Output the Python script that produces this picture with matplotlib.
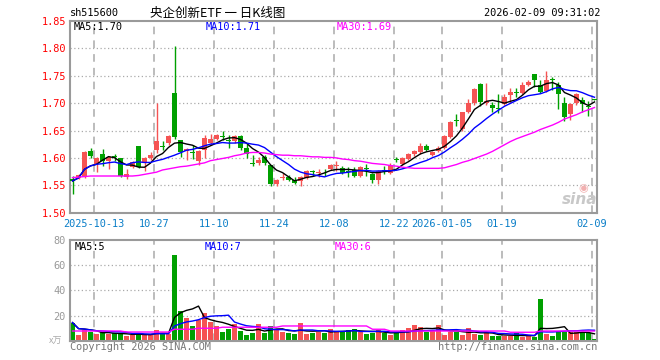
import numpy as np
import pandas as pd
import matplotlib
matplotlib.use("Agg")
from matplotlib import pyplot as plt

# daily candles, 2025-09-29 .. 2026-02-09
opens = [1.561, 1.563, 1.565, 1.612, 1.589, 1.607, 1.595, 1.603, 1.600, 1.566,
         1.584, 1.622, 1.590, 1.600, 1.615, 1.622, 1.627, 1.719, 1.633, 1.612,
         1.611, 1.595, 1.615, 1.628, 1.635, 1.640, 1.632, 1.630, 1.640, 1.619,
         1.591, 1.590, 1.601, 1.587, 1.552, 1.564, 1.566, 1.559, 1.557, 1.563,
         1.576, 1.572, 1.573, 1.580, 1.585, 1.582, 1.576, 1.578, 1.567, 1.581,
         1.571, 1.559, 1.578, 1.573, 1.597, 1.589, 1.598, 1.607, 1.610, 1.622,
         1.605, 1.613, 1.618, 1.639, 1.669, 1.652, 1.683, 1.701, 1.735, 1.700,
         1.697, 1.691, 1.699, 1.715, 1.721, 1.719, 1.734, 1.753, 1.734, 1.722,
         1.744, 1.734, 1.701, 1.680, 1.700, 1.706, 1.694, 1.707]
highs = [1.567, 1.570, 1.613, 1.619, 1.601, 1.616, 1.604, 1.608, 1.600, 1.579,
         1.595, 1.622, 1.602, 1.611, 1.701, 1.631, 1.642, 1.804, 1.633, 1.619,
         1.623, 1.614, 1.642, 1.643, 1.644, 1.650, 1.641, 1.642, 1.641, 1.626,
         1.605, 1.602, 1.605, 1.588, 1.561, 1.572, 1.569, 1.566, 1.567, 1.578,
         1.578, 1.579, 1.579, 1.589, 1.595, 1.585, 1.584, 1.583, 1.586, 1.589,
         1.573, 1.578, 1.586, 1.591, 1.602, 1.602, 1.609, 1.615, 1.627, 1.626,
         1.613, 1.622, 1.642, 1.668, 1.680, 1.684, 1.707, 1.727, 1.736, 1.736,
         1.703, 1.716, 1.716, 1.727, 1.727, 1.739, 1.742, 1.753, 1.742, 1.759,
         1.748, 1.739, 1.712, 1.700, 1.718, 1.711, 1.704, 1.707]
lows = [1.534, 1.562, 1.563, 1.600, 1.575, 1.585, 1.579, 1.595, 1.565, 1.561,
        1.581, 1.582, 1.576, 1.597, 1.609, 1.615, 1.624, 1.634, 1.602, 1.597,
        1.598, 1.587, 1.600, 1.626, 1.632, 1.632, 1.619, 1.628, 1.615, 1.599,
        1.585, 1.587, 1.587, 1.549, 1.549, 1.560, 1.557, 1.553, 1.548, 1.561,
        1.567, 1.565, 1.567, 1.578, 1.577, 1.570, 1.565, 1.566, 1.565, 1.567,
        1.555, 1.552, 1.570, 1.571, 1.593, 1.587, 1.596, 1.604, 1.608, 1.612,
        1.603, 1.610, 1.616, 1.637, 1.658, 1.650, 1.682, 1.697, 1.695, 1.697,
        1.683, 1.682, 1.697, 1.700, 1.712, 1.717, 1.732, 1.730, 1.719, 1.720,
        1.724, 1.689, 1.668, 1.670, 1.697, 1.684, 1.677, 1.705]
closes = [1.558, 1.569, 1.611, 1.604, 1.600, 1.595, 1.602, 1.601, 1.567, 1.571,
          1.593, 1.584, 1.600, 1.605, 1.631, 1.620, 1.640, 1.639, 1.611, 1.617,
          1.609, 1.613, 1.637, 1.635, 1.642, 1.638, 1.630, 1.640, 1.619, 1.608,
          1.589, 1.597, 1.591, 1.552, 1.560, 1.566, 1.559, 1.554, 1.566, 1.577,
          1.574, 1.574, 1.572, 1.588, 1.587, 1.573, 1.575, 1.567, 1.583, 1.580,
          1.560, 1.577, 1.576, 1.588, 1.596, 1.599, 1.607, 1.613, 1.622, 1.615,
          1.611, 1.618, 1.640, 1.666, 1.667, 1.683, 1.701, 1.726, 1.703, 1.704,
          1.692, 1.690, 1.711, 1.720, 1.719, 1.733, 1.739, 1.743, 1.721, 1.743,
          1.742, 1.717, 1.674, 1.698, 1.716, 1.698, 1.693, 1.706]
ma30_price = [1.564, 1.565, 1.566, 1.567, 1.567, 1.567, 1.567, 1.567, 1.567, 1.567,
              1.567, 1.568, 1.570, 1.572, 1.574, 1.578, 1.580, 1.582, 1.584, 1.585,
              1.587, 1.589, 1.591, 1.595, 1.597, 1.599, 1.601, 1.604, 1.606, 1.609,
              1.610, 1.610, 1.609, 1.607, 1.606, 1.605, 1.605, 1.604, 1.604, 1.603,
              1.602, 1.602, 1.601, 1.601, 1.600, 1.598, 1.597, 1.595, 1.594, 1.592,
              1.590, 1.589, 1.588, 1.586, 1.585, 1.583, 1.582, 1.581, 1.581, 1.581,
              1.581, 1.581, 1.582, 1.585, 1.588, 1.592, 1.595, 1.599, 1.603, 1.607,
              1.612, 1.618, 1.624, 1.630, 1.635, 1.639, 1.643, 1.647, 1.652, 1.656,
              1.660, 1.665, 1.671, 1.675, 1.679, 1.684, 1.688, 1.692]

# volume (x万)
volumes = [14.4, 4.8, 8.5, 6.7, 5.1, 6.7, 5.1, 6.0, 5.6, 4.0,
           4.5, 5.9, 4.5, 5.1, 8.5, 5.9, 5.3, 67.7, 23.7, 17.9,
           11.7, 16.5, 21.9, 15.2, 11.7, 7.2, 9.3, 13.1, 7.7, 4.5,
           6.4, 13.3, 6.4, 11.7, 8.5, 7.2, 6.4, 5.3, 14.4, 5.3,
           6.4, 7.2, 6.4, 9.3, 6.7, 7.2, 8.5, 9.3, 7.2, 5.3,
           6.4, 8.5, 6.4, 4.5, 5.9, 8.5, 9.9, 12.5, 10.9, 7.2,
           7.7, 12.5, 4.5, 7.2, 7.2, 4.5, 9.9, 5.3, 4.5, 7.2,
           3.7, 3.7, 3.7, 3.7, 6.4, 2.9, 3.7, 2.9, 33.3, 5.3,
           3.7, 6.7, 6.7, 6.7, 6.7, 6.7, 5.9, 1.3]
ma30_vol = [7.7, 7.7, 7.7, 7.7, 7.7, 7.7, 7.7, 7.7, 7.7, 6.9,
            6.9, 6.9, 6.9, 6.9, 6.9, 6.9, 6.9, 9.1, 9.1, 9.1,
            9.1, 9.9, 9.9, 9.9, 9.9, 10.7, 10.7, 10.7, 10.7, 10.7,
            10.7, 10.7, 10.7, 10.7, 10.7, 11.7, 11.7, 11.7, 11.7, 11.7,
            11.7, 11.7, 11.7, 11.7, 11.7, 11.7, 11.7, 11.7, 11.7, 11.7,
            9.1, 9.1, 9.1, 7.7, 7.7, 7.7, 7.7, 7.7, 7.7, 7.7,
            7.7, 7.7, 7.7, 7.7, 7.7, 7.7, 7.7, 7.7, 7.7, 7.7,
            7.7, 7.7, 7.7, 6.7, 6.7, 6.7, 6.7, 6.7, 7.7, 7.7,
            7.7, 7.7, 7.7, 7.7, 7.7, 7.7, 7.7, 7.7]

date_idx = [4, 14, 24, 34, 44, 54, 62, 72, 87]
date_labels = ['2025-10-13', '10-27', '11-10', '11-24', '12-08',
               '12-22', '2026-01-05', '01-19', '02-09']
price_ticks = [1.50, 1.55, 1.60, 1.65, 1.70, 1.75, 1.80, 1.85]
vol_ticks = [20, 40, 60, 80]

RED = '#f55353'
GREEN = '#00a000'
MONO = 'DejaVu Sans Mono'
CJK = ['Noto Sans CJK SC', 'DejaVu Sans']
W, H = 660, 360

df = pd.DataFrame({'o': opens, 'h': highs, 'l': lows, 'c': closes, 'v': volumes})
x = np.arange(len(df))
up = df.c >= df.o
colors = np.where(up, RED, GREEN)

fig = plt.figure(figsize=(6.6, 3.6), dpi=100)


def box(l, t, r, b):
    return [l / W, 1 - b / H, (r - l) / W, (b - t) / H]


def px(xp, yp):
    return xp / W, 1 - yp / H


ax = fig.add_axes(box(70, 21, 597, 212.7))
axv = fig.add_axes(box(70, 240, 597, 340.7))

for a in (ax, axv):
    a.set_xlim(-0.42, len(df) - 0.58)
    for s in a.spines.values():
        s.set_color('#9a9a9a')
        s.set_linewidth(1.5)
    a.set_xticks([])
    for d in date_idx:
        a.axvline(d - 0.4, color='#aaaaaa', lw=1.1, ls=(0, (5, 4)), zorder=0)
    a.tick_params(axis='y', length=0, pad=3)

# price panel
ax.set_ylim(1.50, 1.85)
ax.set_yticks(price_ticks)
ax.set_yticklabels(['%.2f' % t for t in price_ticks], color='#ff0000',
                   fontfamily=MONO, fontsize=7.4)
for t in price_ticks[1:-1]:
    ax.axhline(t, color='#aaaaaa', lw=0.9, ls=(0, (1, 2)), zorder=0)

ax.vlines(x, df.l, df.h, colors=colors, lw=1, zorder=2)
body_lo = np.minimum(df.o, df.c)
body_h = np.maximum(np.abs(df.c - df.o), 0.0012)
ax.bar(x, body_h, bottom=body_lo, width=0.8, color=colors, lw=0, zorder=3)

ma5 = df.c.rolling(5, min_periods=1).mean()
ma10 = df.c.rolling(10, min_periods=1).mean()
ax.plot(x, ma5, color='black', lw=1, zorder=4)
ax.plot(x, ma10, color='#0000ff', lw=1, zorder=4)
ax.plot(x, ma30_price, color='#ff00ff', lw=1, zorder=4)

for i, lab in zip(date_idx, date_labels):
    ax.text(i - 0.4, 1.50, lab, transform=ax.transData, ha='center', va='top',
            color='#0a7ec8', fontfamily=MONO, fontsize=7.4)
# text offset below axis
for t in ax.texts:
    t.set_y(1.50 - 0.012)

# volume panel
axv.set_ylim(0, 80)
axv.set_yticks(vol_ticks)
axv.set_yticklabels([str(t) for t in vol_ticks], color='#999999',
                    fontfamily=MONO, fontsize=7.4)
for t in vol_ticks[:-1]:
    axv.axhline(t, color='#aaaaaa', lw=0.9, ls=(0, (1, 2)), zorder=0)
axv.bar(x, df.v, width=0.8, color=colors, lw=0, zorder=2)
vma5 = df.v.rolling(5, min_periods=1).mean()
vma10 = df.v.rolling(10, min_periods=1).mean()
axv.plot(x, vma5, color='black', lw=1, zorder=3)
axv.plot(x, vma10, color='#0000ff', lw=1, zorder=3)
axv.plot(x, ma30_vol, color='#ff00ff', lw=1, zorder=3)

# header and labels
fig.text(*px(70, 13), 'sh515600', fontfamily=MONO, fontsize=7.4, va='center')
fig.text(*px(150, 13), '央企创新ETF 一 日K线图', family=CJK, fontsize=9, va='center')
fig.text(*px(600, 13), '2026-02-09 09:31:02', fontfamily=MONO, fontsize=7.4,
         va='center', ha='right')
fig.text(*px(74, 27), 'MA5:%.2f' % ma5.iloc[-1], fontfamily=MONO, fontsize=7.4,
         va='center', color='black')
fig.text(*px(206, 27), 'MA10:%.2f' % ma10.iloc[-1], fontfamily=MONO, fontsize=7.4,
         va='center', color='#0000ff')
fig.text(*px(337, 27), 'MA30:%.2f' % ma30_price[-1], fontfamily=MONO, fontsize=7.4,
         va='center', color='#ff00ff')
fig.text(*px(75, 247), 'MA5:5', fontfamily=MONO, fontsize=7.4, va='center')
fig.text(*px(205, 247), 'MA10:7', fontfamily=MONO, fontsize=7.4, va='center',
         color='#0000ff')
fig.text(*px(335, 247), 'MA30:6', fontfamily=MONO, fontsize=7.4, va='center',
         color='#ff00ff')
fig.text(*px(49, 341), 'x万', family=CJK, fontsize=6.5, va='center', color='#aaaaaa')
fig.text(*px(70, 347), 'Copyright 2026 SINA.COM', fontfamily=MONO, fontsize=7.4,
         va='center', color='#777777')
fig.text(*px(597, 347), 'http://finance.sina.com.cn', fontfamily=MONO, fontsize=7.4,
         va='center', ha='right', color='#777777')

# watermark
fig.text(*px(580, 200), 'sina', fontsize=11, style='italic', weight='bold',
         color='#c8c8c8', ha='center', va='center')
fig.text(*px(583, 188), '◉', fontsize=8, color='#f2b0b0', ha='center', va='center')

fig.savefig('out.png', dpi=100)
